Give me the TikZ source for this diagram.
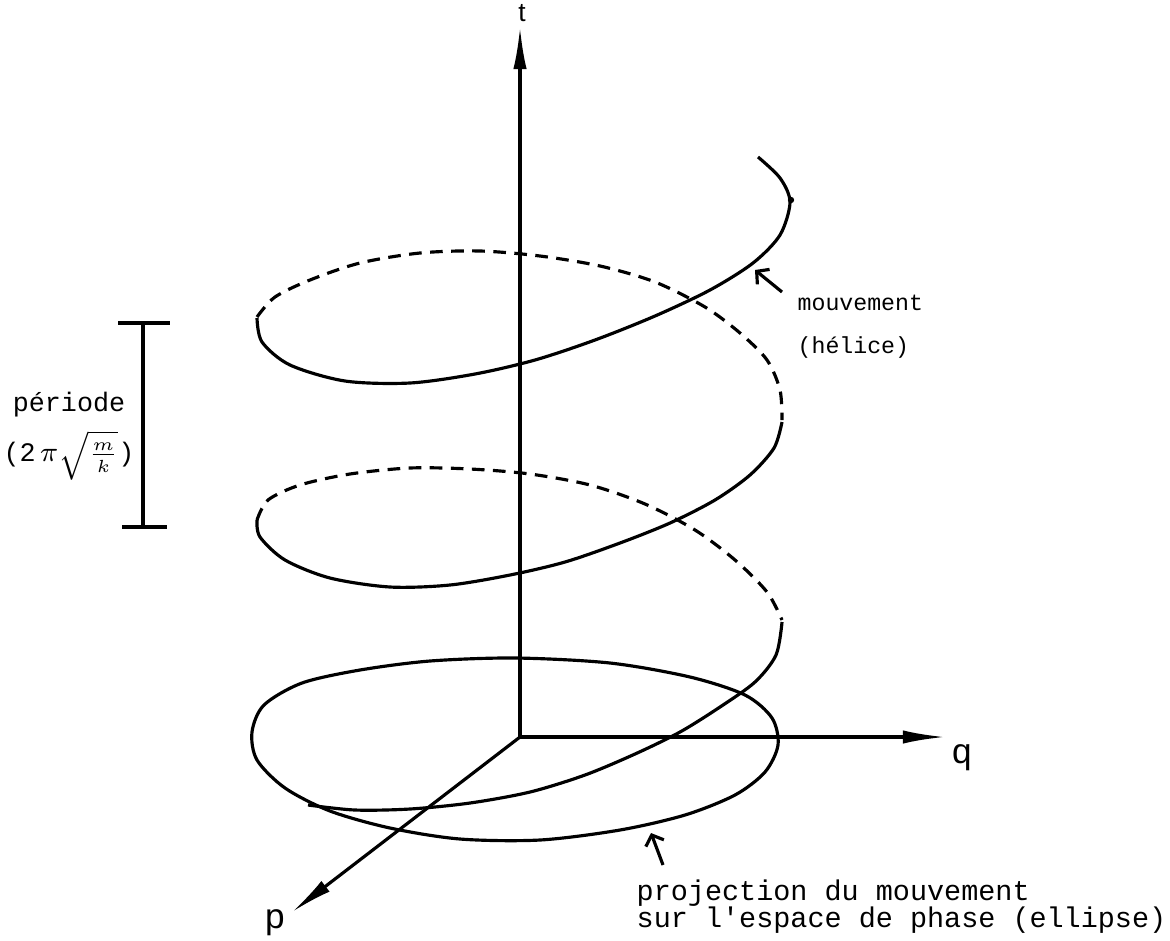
\documentclass[tikz,border=0pt]{standalone}
\usepackage{fontspec}
\usepackage{amsmath}
\setmainfont{Liberation Mono}
\newfontfamily\handfont{Liberation Sans}
\usetikzlibrary{arrows.meta}

\begin{document}
\begin{tikzpicture}[
                    curve/.style={line width=0.9pt, line join=round},
                    hidden/.style={line width=0.9pt, dash pattern=on 3.6pt off 2.4pt},
                    axis/.style={line width=0.9pt, -{Latex[length=12pt,width=3.8pt]}},
                    pointer/.style={line width=0.9pt, -{Straight Barb[length=2.5pt,width=5.5pt]}},
                    axislabel/.style={inner sep=0pt, font=\handfont\fontsize{10}{12}\selectfont},
                    note/.style={inner sep=0pt, anchor=west, font=\fontsize{8.1}{10}\selectfont},
                    smallnote/.style={inner sep=0pt, anchor=west, font=\fontsize{6.6}{8}\selectfont}]
                    \useasboundingbox (0,0) rectangle (11.70,9.40);

                    % axes
                    \coordinate (O) at (5.20,2.03);
                    \coordinate (tend) at (5.20,9.13);
                    \coordinate (qend) at (9.45,2.03);
                    \coordinate (pend) at (2.92,0.28);
                    \draw[axis] (O) -- (tend);
                    \draw[axis] (O) -- (qend);
                    \draw[axis] (O) -- (pend);
                    \node[axislabel, font=\handfont\fontsize{7.5}{8}\selectfont] (t) at (5.22,9.27) {t};
                    \node[axislabel] (q) at (9.62,1.82) {q};
                    \node[axislabel] (p) at (2.75,0.17) {p};

                    % helix
                    \draw[curve] plot[smooth] coordinates {(7.58,7.83) (7.80,7.62) (7.90,7.38) (7.80,7.05) (7.53,6.77) (7.10,6.50) (6.55,6.24) (5.95,6.00) (5.35,5.80) (4.75,5.66) (4.10,5.57) (3.45,5.59) (2.90,5.75) (2.62,5.98) (2.57,6.22)};
                    \draw[hidden] plot[smooth] coordinates {(2.57,6.23) (2.75,6.43) (3.10,6.60) (3.60,6.77) (4.20,6.87) (4.80,6.89) (5.40,6.84) (6.00,6.74) (6.55,6.58) (7.05,6.33) (7.40,6.07) (7.67,5.80) (7.80,5.50) (7.82,5.20)};
                    \draw[curve] plot[smooth] coordinates {(7.82,5.18) (7.74,4.92) (7.50,4.65) (7.15,4.40) (6.70,4.17) (6.20,3.97) (5.65,3.78) (5.10,3.65) (4.50,3.55) (3.90,3.53) (3.30,3.62) (2.85,3.80) (2.60,4.03) (2.57,4.20)};
                    \draw[hidden] plot[smooth] coordinates {(2.57,4.20) (2.68,4.40) (3.00,4.55) (3.50,4.66) (4.10,4.72) (4.70,4.71) (5.30,4.66) (5.90,4.55) (6.45,4.36) (6.95,4.10) (7.35,3.80) (7.67,3.48) (7.82,3.20)};
                    \draw[curve] plot[smooth] coordinates {(7.82,3.18) (7.76,2.85) (7.55,2.58) (7.20,2.33) (6.80,2.08) (6.35,1.86) (5.85,1.65) (5.30,1.48) (4.70,1.37) (4.10,1.31) (3.55,1.30) (3.08,1.35)};
                    \fill (7.91,7.40) circle (0.9pt);

                    % projection (ellipse)
                    \draw[curve] plot[smooth cycle] coordinates {(5.15,2.82) (6.10,2.77) (6.90,2.63) (7.45,2.45) (7.72,2.22) (7.78,1.95) (7.65,1.68) (7.35,1.45) (6.85,1.25) (6.20,1.10) (5.40,1.00) (4.60,1.01) (3.90,1.12) (3.30,1.29) (2.85,1.52) (2.57,1.80) (2.52,2.08) (2.64,2.35) (3.02,2.57) (3.60,2.70) (4.30,2.79)};

                    % period bracket
                    \coordinate (ptop) at (1.43,6.17);
                    \coordinate (pbot) at (1.43,4.13);
                    \draw[curve] (ptop) -- (pbot);
                    \draw[curve] (1.18,6.17) -- (1.70,6.17);
                    \draw[curve] (1.22,4.13) -- (1.67,4.13);
                    \node[inner sep=0pt, align=center, font=\fontsize{7.6}{9}\selectfont] (periode) at (0.69,5.04) {période\\[3pt](2\,$\pi\sqrt{\frac{m}{k}}$)};

                    % labels
                    \node[smallnote] (mvt) at (7.97,6.37) {mouvement};
                    \node[smallnote] (helice) at (7.97,5.93) {(hélice)};
                    \coordinate (mvtfrom) at (7.82,6.48);
                    \coordinate (mvtto) at (7.55,6.70);
                    \draw[pointer] (mvtfrom) -- (mvtto);

                    \node[note] (proj) at (6.36,0.47) {projection du mouvement};
                    \node[note] (espace) at (6.36,0.20) {sur l\textquotesingle espace de phase (ellipse)};
                    \coordinate (projfrom) at (6.63,0.75);
                    \coordinate (projto) at (6.51,1.07);
                    \draw[pointer] (projfrom) -- (projto);
                \end{tikzpicture}
\end{document}
